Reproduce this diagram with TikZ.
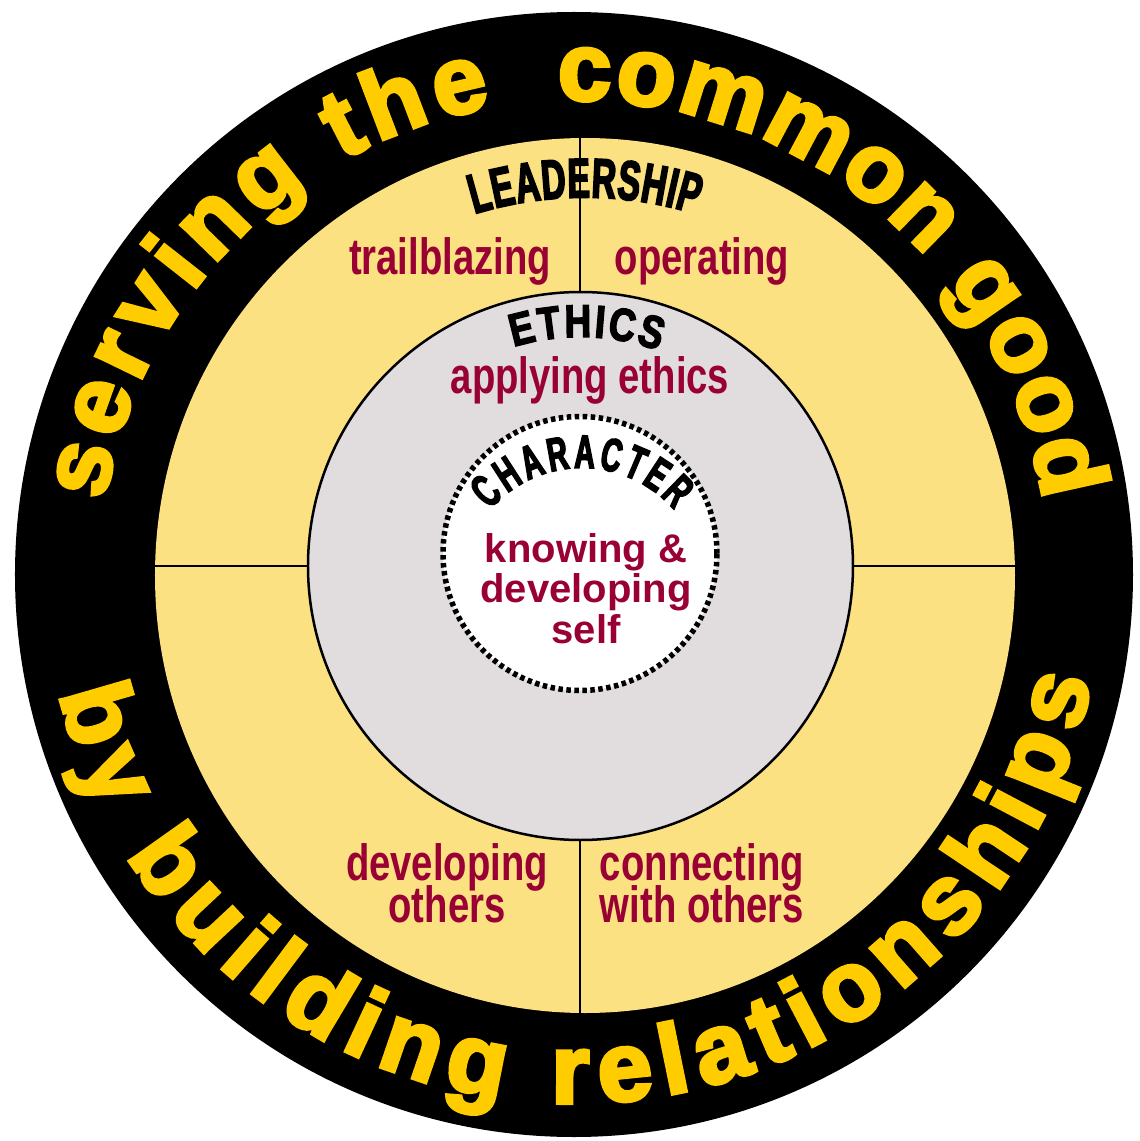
\documentclass[tikz,border=0pt]{standalone}
\usepackage{fontspec}
\setmainfont{Liberation Sans}
\usetikzlibrary{decorations.text,shapes.geometric}

\newfontfamily\ringfont[FakeStretch=1.0,FakeBold=4]{Liberation Sans Bold}
\newfontfamily\narrowfont[FakeStretch=0.6,FakeBold=3]{Liberation Sans Bold}
\newfontfamily\archfont[FakeStretch=0.8,FakeBold=3]{Liberation Sans Bold}
\newfontfamily\skillfont[FakeStretch=0.75]{Liberation Sans Bold}
\newfontfamily\selffont{Liberation Sans Bold}

\definecolor{ringyellow}{RGB}{255,204,0}
\definecolor{leadyellow}{RGB}{251,225,130}
\definecolor{ethgray}{RGB}{225,220,221}
\definecolor{skillred}{RGB}{153,0,51}

\begin{document}
\begin{tikzpicture}[x=1pt, y=1pt,
	ring/.style={ellipse, inner sep=0pt, outer sep=0pt},
	divider/.style={line width=2pt},
	skill/.style={font={\skillfont\fontsize{51}{42}\selectfont\lineskiplimit-100pt\relax}, text=skillred, anchor=base, inner sep=0pt, align=center},
	self/.style={font={\selffont\fontsize{40}{40.5}\selectfont\lineskiplimit-100pt\relax}, text=skillred, anchor=base, inner sep=0pt, align=center}]
	\useasboundingbox[fill=white] (-574,-566) rectangle (566,575);
	\node[ring, fill=black, minimum width=1118pt, minimum height=1125pt] (ring) at (0,0.5) {};
	\node[ring, fill=leadyellow, minimum width=860pt, minimum height=875pt] (lead) at (11,-0.5) {};
	\node[ring, fill=ethgray, draw=black, line width=2.5pt, minimum width=545pt, minimum height=548pt] (eth) at (6.5,9) {};
	\draw[divider] (eth.north) -- (eth.north |- lead.north);
	\draw[divider] (eth.south) -- (eth.south |- lead.south);
	\draw[divider] (eth.west) -- (eth.west -| lead.west);
	\draw[divider] (eth.east) -- (eth.east -| lead.east);
	\node[circle, inner sep=0pt, fill=white, draw=black, line width=5.5pt, dash pattern=on 4.5pt off 3.5pt, minimum size=274pt] (char) at (6,21.5) {};
	% ring texts
	\path[decorate, decoration={text along path, text align={fit to path}, text color=ringyellow,
		text={|\ringfont\fontsize{96}{96}\selectfont|serving the}}]
		(171:475) arc[start angle=171, end angle=100, radius=475];
	\path[decorate, decoration={text along path, text align={fit to path}, text color=ringyellow,
		text={|\ringfont\fontsize{96}{96}\selectfont|common good}}]
		(92:475) arc[start angle=92, end angle=9, radius=475];
	\path[decorate, decoration={text along path, text align={fit to path}, text color=ringyellow,
		text={|\ringfont\fontsize{98}{98}\selectfont|by building relationships}}]
		(193:528) arc[start angle=193, end angle=348.5, radius=528];
	% arched titles
	\path[shift={(lead.center)}, decorate, decoration={text along path, text align={fit to path},
		text={|\narrowfont\fontsize{56}{56}\selectfont|LEADERSHIP}}]
		(107:378) arc[start angle=107, end angle=73, radius=378];
	\path[shift={(eth.center)}, decorate, decoration={text along path, text align={fit to path},
		text={|\archfont\fontsize{46}{46}\selectfont|ETHICS}}]
		(107:229) arc[start angle=107, end angle=70, radius=229];
	\path[shift={(8,-15)}, decorate, decoration={text along path, text align={fit to path},
		text={|\narrowfont\fontsize{47}{47}\selectfont|CHARACTER}}]
		(139:122) arc[start angle=139, end angle=41, radius=122];
	% skills
	\node[skill] (trail) at (-124,300) {trailblazing};
	\node[skill] (oper) at (128,300) {operating};
	\node[skill] (apply) at (16,182) {applying ethics};
	\node[skill] (devoth) at (-127,-347) {developing\\others};
	\node[skill] (conn) at (128,-347) {connecting\\with others};
	\node[self] (know) at (12,-68) {knowing \&\\developing\\self};
\end{tikzpicture}
\end{document}
